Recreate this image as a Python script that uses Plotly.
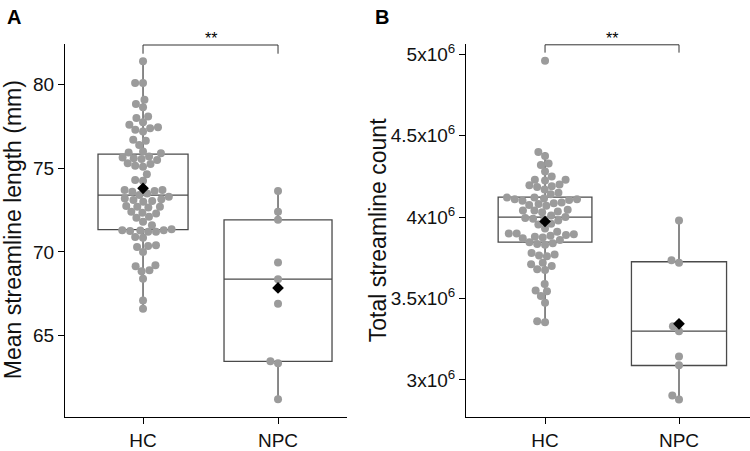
import numpy as np
import plotly.graph_objects as go

# ---------------- data ----------------
groups = ["HC", "NPC"]

len_hc = [81.4, 80.1, 80.1, 79.1, 78.85, 78.65, 78.1, 78.0, 77.75, 77.6, 77.45, 77.4,
          77.3, 77.2, 76.7, 76.65, 76.4, 76.0, 75.95, 75.9,
          75.7, 75.65, 75.6, 75.55, 75.5, 75.3, 75.25, 75.15, 75.1, 74.65, 74.3, 74.25,
          73.7, 73.7, 73.65, 73.6, 73.5, 73.4,
          73.3, 73.2, 73.15, 73.1, 73.05, 73.0, 72.75, 72.7, 72.7, 72.65, 72.4, 72.35,
          72.3, 72.1, 72.05, 71.8, 71.6,
          71.35, 71.3, 71.3, 71.28, 71.25, 71.2, 71.2, 70.9, 70.85, 70.4, 70.35, 70.3,
          70.0, 69.2, 69.15, 68.9, 68.85, 68.4, 67.1, 66.6]
len_npc = [73.65, 72.4, 71.92, 69.37, 68.37, 66.9, 63.46, 63.34, 61.2]

cnt_hc_m = [4.96, 4.40, 4.375, 4.33, 4.32, 4.28, 4.25, 4.23, 4.23, 4.225, 4.20, 4.195,
            4.19, 4.185, 4.17, 4.15, 4.14,
            4.12, 4.12, 4.115, 4.11, 4.11, 4.105, 4.10, 4.09, 4.085, 4.08, 4.075, 4.07,
            4.045, 4.04, 4.04, 4.035, 4.03, 4.01, 4.0,
            3.995, 3.99, 3.985, 3.98, 3.96, 3.955, 3.93, 3.91, 3.90, 3.90, 3.895, 3.89,
            3.885, 3.88, 3.875, 3.87, 3.86,
            3.845, 3.84, 3.835, 3.83, 3.78, 3.77, 3.765, 3.76, 3.72, 3.71, 3.70, 3.68,
            3.675, 3.59, 3.55, 3.545, 3.515, 3.475, 3.36, 3.355]
cnt_npc_m = [3.98, 3.735, 3.72, 3.33, 3.30, 3.145, 3.09, 2.905, 2.88]
cnt_hc = [v * 1e6 for v in cnt_hc_m]
cnt_npc = [v * 1e6 for v in cnt_npc_m]

# box statistics (q1, median, q3, lower whisker, upper whisker, mean)
len_stats = {
    "HC": dict(q1=71.33, med=73.4, q3=75.85, lo=66.6, hi=81.4, mean=73.8),
    "NPC": dict(q1=63.46, med=68.37, q3=71.92, lo=61.2, hi=73.65, mean=67.85),
}
cnt_stats = {
    "HC": dict(q1=3.847e6, med=4.0e6, q3=4.123e6, lo=3.355e6, hi=4.40e6, mean=3.973e6),
    "NPC": dict(q1=3.089e6, med=3.30e6, q3=3.726e6, lo=2.88e6, hi=3.98e6, mean=3.345e6),
}

len_ticks = [65, 70, 75, 80]
cnt_ticks = [3e6, 3.5e6, 4e6, 4.5e6, 5e6]
cnt_ticktext = ["3x10<sup>6</sup>", "3.5x10<sup>6</sup>", "4x10<sup>6</sup>",
                "4.5x10<sup>6</sup>", "5x10<sup>6</sup>"]

# ---------------- layout constants ----------------
W, H = 750, 451
FONT = "Liberation Sans, Arial, sans-serif"
PT_COL = "#9b9b9b"
BOX_COL = "#4a4a4a"
DOT = 8
SPACING = 7.9

ydom = [23 / H, 408 / H]
A_dom = [65 / W, 347 / W]
B_dom = [466 / W, 1.0]
A_xr = [0.422, 2.511]
B_xr = [0.41, 2.53]
A_yr = [60.15, 82.45]
B_yr = [2.7745e6, 5.065e6]

box_w = {"A": {"HC": 0.667, "NPC": 0.80}, "B": {"HC": 0.70, "NPC": 0.71}}


def swarm(vals, xpx_per_unit, ypx_per_unit, d=SPACING):
    vals = np.asarray(vals, float)
    order = np.argsort(vals)
    placed = []
    offs = np.zeros(len(vals))
    for i in order:
        y = vals[i] * ypx_per_unit
        cands = [0.0]
        for xo, yo in placed:
            dy = abs(y - yo)
            if dy < d:
                dx = np.sqrt(d * d - dy * dy)
                cands += [xo + dx, xo - dx]
        cands = sorted(cands, key=lambda c: (abs(c), c))
        for c in cands:
            if all((c - xo) ** 2 + (y - yo) ** 2 >= d * d - 1e-6 for xo, yo in placed):
                offs[i] = c
                placed.append((c, y))
                break
    return offs / xpx_per_unit


fig = go.Figure()


def add_panel(xa, ya, data, stats, xr, yr, xdom, key):
    xpx = (xdom[1] - xdom[0]) * W / (xr[1] - xr[0])
    ypx = (ydom[1] - ydom[0]) * H / (yr[1] - yr[0])
    for gi, g in enumerate(groups):
        s = stats[g]
        fig.add_trace(go.Box(
            x=[gi + 1], q1=[s["q1"]], median=[s["med"]], q3=[s["q3"]],
            lowerfence=[s["lo"]], upperfence=[s["hi"]],
            width=box_w[key][g], whiskerwidth=0, fillcolor="white",
            line=dict(color=BOX_COL, width=1.3), boxpoints=False,
            xaxis=xa, yaxis=ya, showlegend=False, hoverinfo="skip"))
    for gi, g in enumerate(groups):
        vals = data[gi]
        offs = swarm(vals, xpx, ypx)
        fig.add_trace(go.Scatter(
            x=[gi + 1 + o for o in offs], y=vals, mode="markers",
            marker=dict(size=DOT, color=PT_COL, line=dict(width=0)),
            xaxis=xa, yaxis=ya, showlegend=False))
    fig.add_trace(go.Scatter(
        x=[1, 2], y=[stats[g]["mean"] for g in groups], mode="markers",
        marker=dict(size=9, symbol="diamond", color="black", line=dict(width=0)),
        xaxis=xa, yaxis=ya, showlegend=False))


add_panel("x", "y", [len_hc, len_npc], len_stats, A_xr, A_yr, A_dom, "A")
add_panel("x2", "y2", [cnt_hc, cnt_npc], cnt_stats, B_xr, B_yr, B_dom, "B")

axis_common = dict(showgrid=False, zeroline=False, showline=True, linecolor="black",
                   linewidth=1, ticks="outside", ticklen=6, tickcolor="black",
                   tickfont=dict(family=FONT, size=19, color="#111111"))

fig.update_layout(
    width=W, height=H, margin=dict(l=0, r=0, t=0, b=0),
    paper_bgcolor="white", plot_bgcolor="white", showlegend=False,
    xaxis=dict(domain=A_dom, range=A_xr, tickvals=[1, 2], ticktext=groups,
               anchor="y", **axis_common),
    yaxis=dict(domain=ydom, range=A_yr, tickvals=len_ticks, anchor="x", **axis_common),
    xaxis2=dict(domain=B_dom, range=B_xr, tickvals=[1, 2], ticktext=groups,
                anchor="y2", **axis_common),
    yaxis2=dict(domain=ydom, range=B_yr, tickvals=cnt_ticks, ticktext=cnt_ticktext,
                anchor="x2", **axis_common),
)


def bracket(xa, ya, ytop, ydrop):
    xs = [1, 1, 2, 2]
    ys = [ydrop, ytop, ytop, ydrop]
    path = "M " + " L ".join(f"{a},{b}" for a, b in zip(xs, ys))
    fig.add_shape(type="path", path=path, xref=xa, yref=ya,
                  line=dict(color="#333333", width=1))
    fig.add_annotation(x=1.5, y=ytop, xref=xa, yref=ya, text="**", showarrow=False,
                       yanchor="bottom", yshift=-4,
                       font=dict(family=FONT, size=16, color="black"))


bracket("x", "y", 82.37, 81.85)
bracket("x2", "y2", 5.058e6, 5.01e6)

# axis titles and panel letters
mid_y = (H - (428 + 43) / 2) / H
fig.add_annotation(x=13 / W, y=mid_y, xref="paper", yref="paper",
                   text="Mean streamline length (mm)", textangle=-90, showarrow=False,
                   xanchor="center", yanchor="middle",
                   font=dict(family=FONT, size=23, color="#111111"))
fig.add_annotation(x=378 / W, y=mid_y, xref="paper", yref="paper",
                   text="Total streamline count", textangle=-90, showarrow=False,
                   xanchor="center", yanchor="middle",
                   font=dict(family=FONT, size=23, color="#111111"))
fig.add_annotation(x=5 / W, y=1 - 2 / H, xref="paper", yref="paper", text="<b>A</b>",
                   showarrow=False, xanchor="left", yanchor="top",
                   font=dict(family=FONT, size=20, color="black"))
fig.add_annotation(x=373 / W, y=1 - 2 / H, xref="paper", yref="paper", text="<b>B</b>",
                   showarrow=False, xanchor="left", yanchor="top",
                   font=dict(family=FONT, size=20, color="black"))

fig.write_html("out.html")
